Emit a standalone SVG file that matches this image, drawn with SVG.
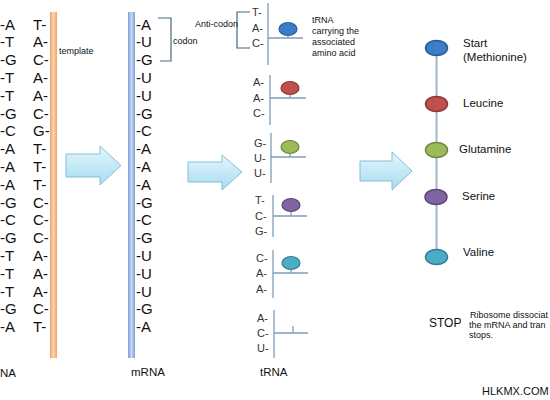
<svg xmlns="http://www.w3.org/2000/svg" width="550" height="400" viewBox="0 0 550 400">
<defs>
<style>
.b{font-family:"Liberation Sans",Arial,sans-serif;font-size:15px;fill:#111}
.t{font-family:"Liberation Sans",Arial,sans-serif;font-size:11px;fill:#333}
.s{font-family:"Liberation Sans",Arial,sans-serif;font-size:9px;fill:#111}
.l{font-family:"Liberation Sans",Arial,sans-serif;font-size:11.5px;fill:#111}
.ln{stroke:#7E9DBE;stroke-width:1.3;fill:none}
.br{stroke:#3D6E7E;stroke-width:1.2;fill:none}
.arr{fill:url(#ga);stroke:#86BCD8;stroke-width:1}
</style>
<linearGradient id="ga" x1="0" y1="0" x2="0" y2="1"><stop offset="0" stop-color="#E4F7FD"/><stop offset="1" stop-color="#A6DCEF"/></linearGradient>
<linearGradient id="go" x1="0" y1="0" x2="1" y2="0"><stop offset="0" stop-color="#EFA266"/><stop offset="0.5" stop-color="#FBD4AE"/><stop offset="1" stop-color="#EFA266"/></linearGradient>
<linearGradient id="gb" x1="0" y1="0" x2="1" y2="0"><stop offset="0" stop-color="#7E9FD6"/><stop offset="0.5" stop-color="#C6D8F5"/><stop offset="1" stop-color="#7E9FD6"/></linearGradient>
</defs>
<rect width="550" height="400" fill="#fff"/>

<g id="dna">
<rect x="50" y="12" width="7" height="346" fill="url(#go)"/>
<g class="b">
<text x="0" y="29.5">-A</text><text x="33" y="29.5">T-</text>
<text x="0" y="47.3">-T</text><text x="33" y="47.3">A-</text>
<text x="0" y="65.1">-G</text><text x="33" y="65.1">C-</text>
<text x="0" y="82.9">-T</text><text x="33" y="82.9">A-</text>
<text x="0" y="100.7">-T</text><text x="33" y="100.7">A-</text>
<text x="0" y="118.5">-G</text><text x="33" y="118.5">C-</text>
<text x="0" y="136.3">-C</text><text x="33" y="136.3">G-</text>
<text x="0" y="154.1">-A</text><text x="33" y="154.1">T-</text>
<text x="0" y="171.9">-A</text><text x="33" y="171.9">T-</text>
<text x="0" y="189.7">-A</text><text x="33" y="189.7">T-</text>
<text x="0" y="207.5">-G</text><text x="33" y="207.5">C-</text>
<text x="0" y="225.3">-C</text><text x="33" y="225.3">C-</text>
<text x="0" y="243.1">-G</text><text x="33" y="243.1">C-</text>
<text x="0" y="260.9">-T</text><text x="33" y="260.9">A-</text>
<text x="0" y="278.7">-T</text><text x="33" y="278.7">A-</text>
<text x="0" y="296.5">-T</text><text x="33" y="296.5">A-</text>
<text x="0" y="314.3">-G</text><text x="33" y="314.3">C-</text>
<text x="0" y="332.1">-A</text><text x="33" y="332.1">T-</text>
</g>
<text class="s" x="59" y="54">template</text>
<text class="l" x="0" y="377">NA</text>
</g>

<g id="mrna">
<rect x="128" y="12" width="7" height="346" fill="url(#gb)"/>
<g class="b">
<text x="136" y="29.5">-A</text>
<text x="136" y="47.3">-U</text>
<text x="136" y="65.1">-G</text>
<text x="136" y="82.9">-U</text>
<text x="136" y="100.7">-U</text>
<text x="136" y="118.5">-G</text>
<text x="136" y="136.3">-C</text>
<text x="136" y="154.1">-A</text>
<text x="136" y="171.9">-A</text>
<text x="136" y="189.7">-A</text>
<text x="136" y="207.5">-G</text>
<text x="136" y="225.3">-C</text>
<text x="136" y="243.1">-G</text>
<text x="136" y="260.9">-U</text>
<text x="136" y="278.7">-U</text>
<text x="136" y="296.5">-U</text>
<text x="136" y="314.3">-G</text>
<text x="136" y="332.1">-A</text>
</g>
<path class="br" d="M158,18 H171 V61 H160"/>
<text class="s" x="173" y="44">codon</text>
<text class="l" x="131" y="376">mRNA</text>
</g>

<g id="trna1">
<path class="br" d="M250,12 H237 V48 H250"/>
<text class="s" x="195" y="27">Anti-codon</text>
<g class="t"><text x="252" y="16">T-</text><text x="252" y="32">A-</text><text x="252" y="47">C-</text></g>
<path class="ln" d="M268,3 V65 M268,38 H303 M288,35 V38"/>
<ellipse cx="288" cy="29" rx="9" ry="6.5" fill="#3D7CC9" stroke="#2B5C96" stroke-width="1.2"/>
<g class="s"><text x="312" y="23">tRNA</text><text x="312" y="34">carrying the</text><text x="312" y="45">associated</text><text x="312" y="56">amino acid</text></g>
</g>
<g id="trna2">
<g class="t"><text x="253" y="86">A-</text><text x="253" y="102">A-</text><text x="253" y="117">C-</text></g>
<path class="ln" d="M270,75 V125 M270,98 H306 M290,94 V98"/>
<ellipse cx="290" cy="88" rx="9" ry="6.5" fill="#C0504D" stroke="#8C3836" stroke-width="1.2"/>
</g>
<g id="trna3">
<g class="t"><text x="254" y="147">G-</text><text x="254" y="162">U-</text><text x="254" y="177">U-</text></g>
<path class="ln" d="M271,133 V183 M271,157 H306 M290,153 V157"/>
<ellipse cx="290" cy="147" rx="9" ry="6.5" fill="#9BBB59" stroke="#71893F" stroke-width="1.2"/>
</g>
<g id="trna4">
<g class="t"><text x="255" y="204">T-</text><text x="255" y="220">C-</text><text x="255" y="235">G-</text></g>
<path class="ln" d="M273,195 V237 M273,216 H307 M291,211 V216"/>
<ellipse cx="291" cy="205" rx="9" ry="6.5" fill="#8064A2" stroke="#5C4776" stroke-width="1.2"/>
</g>
<g id="trna5">
<g class="t"><text x="256" y="262">C-</text><text x="256" y="277">A-</text><text x="256" y="293">A-</text></g>
<path class="ln" d="M273,250 V298 M273,273 H308 M291,269 V273"/>
<ellipse cx="291" cy="263" rx="9" ry="6.5" fill="#4BACC6" stroke="#357D91" stroke-width="1.2"/>
</g>
<g id="trna6">
<g class="t"><text x="257" y="322">A-</text><text x="257" y="337">C-</text><text x="257" y="352">U-</text></g>
<path class="ln" d="M274,310 V358 M274,333 H308 M293,326 V333"/>
<text class="l" x="260" y="376">tRNA</text>
</g>

<g id="connectors">
<path class="arr" d="M66,154 H100 V146 L121,165.5 L100,185 V177 H66 Z"/>
<path class="arr" d="M188,162 H222 V155 L242,172 L222,190 V182 H188 Z"/>
<path class="arr" d="M360,161 H392 V152 L412,171 L392,190 V181 H360 Z"/>
<path d="M436.5,48 V257" stroke="#A3B3C9" stroke-width="2" fill="none"/>
</g>

<g id="start"><ellipse cx="436.5" cy="48" rx="11" ry="7.5" fill="#3D7CC9" stroke="#2B5C96" stroke-width="1.5"/>
<text class="l" x="463" y="47">Start</text><text class="l" x="463" y="61">(Methionine)</text></g>
<g id="leucine"><ellipse cx="436.5" cy="104" rx="11" ry="7.5" fill="#C0504D" stroke="#8C3836" stroke-width="1.5"/>
<text class="l" x="463" y="107">Leucine</text></g>
<g id="glutamine"><ellipse cx="436.5" cy="150" rx="11" ry="7.5" fill="#9BBB59" stroke="#71893F" stroke-width="1.5"/>
<text class="l" x="459" y="153">Glutamine</text></g>
<g id="serine"><ellipse cx="436" cy="197" rx="11" ry="7.5" fill="#8064A2" stroke="#5C4776" stroke-width="1.5"/>
<text class="l" x="462" y="200">Serine</text></g>
<g id="valine"><ellipse cx="436.5" cy="257" rx="11" ry="7.5" fill="#4BACC6" stroke="#357D91" stroke-width="1.5"/>
<text class="l" x="463" y="256">Valine</text></g>
<g id="stop">
<text class="l" x="429" y="327" style="font-size:12px">STOP</text>
<g class="s"><text x="470" y="318">Ribosome dissociat</text><text x="469" y="328">the mRNA and tran</text><text x="469" y="338">stops.</text></g>
</g>
<text class="l" x="482" y="395" style="font-size:11px">HLKMX.COM</text>
</svg>
